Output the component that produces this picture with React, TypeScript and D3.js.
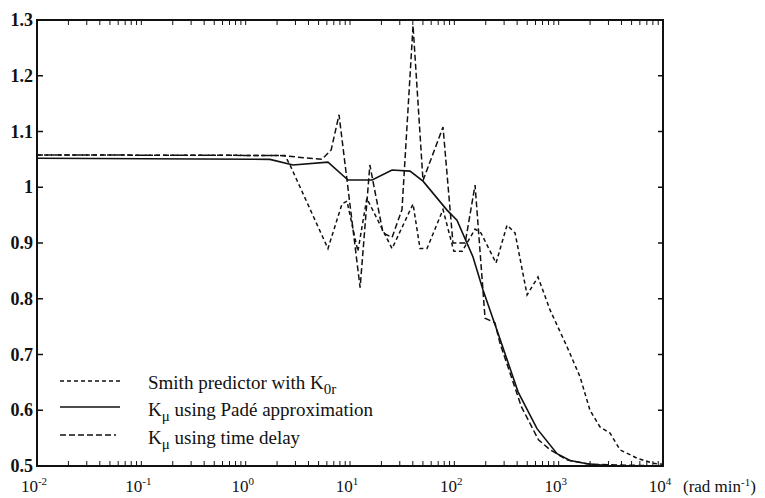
import React from 'react';
import * as d3 from 'd3';

const W = 765;
const H = 498;

// x: frequency (rad/min), y: gain
const xDecades = [-2, -1, 0, 1, 2, 3, 4];
const yTicks = [0.5, 0.6, 0.7, 0.8, 0.9, 1.0, 1.1, 1.2, 1.3];
const yTickLabels = ['0.5', '0.6', '0.7', '0.8', '0.9', '1', '1.1', '1.2', '1.3'];

// K_mu using Padé approximation (solid)
const padeFreq = [0.01, 1.71, 2.84, 6.15, 9.57, 16.3, 25.3, 37.6, 50.1, 85.1, 106, 151, 188, 274, 408, 620, 964, 1285, 1870, 2906, 10000];
const padeGain = [1.052, 1.05, 1.04, 1.045, 1.013, 1.013, 1.031, 1.029, 1.011, 0.959, 0.941, 0.875, 0.816, 0.728, 0.633, 0.567, 0.522, 0.51, 0.504, 0.501, 0.5];

// K_mu using time delay (dashed, follows the Padé curve at high frequency)
const delayFreq = [0.01, 2.13, 5.39, 6.6, 7.85, 12.5, 15.5, 20.7, 25.3, 31.5, 40.2, 50.1, 77.9, 97, 127, 158, 197, 245, 274, 440, 640, 830, 1200, 2000, 10000];
const delayGain = [1.058, 1.057, 1.05, 1.067, 1.13, 0.82, 1.04, 0.918, 0.91, 0.96, 1.29, 1.012, 1.108, 0.9, 0.9, 1.004, 0.765, 0.757, 0.72, 0.606, 0.547, 0.529, 0.511, 0.503, 0.5];

// Smith predictor with K_0r (dashed, long tail)
const smithFreq = [0.01, 2.38, 2.66, 6.15, 8.38, 9.36, 11.9, 14.5, 25.3, 40.2, 46.9, 54.7, 77.9, 99, 119, 158, 180, 251, 320, 382, 498, 634, 826, 1202, 1603, 1995, 2489, 3105, 3873, 5636, 8017, 10000];
const smithGain = [1.058, 1.057, 1.04, 0.89, 0.97, 0.975, 0.885, 0.98, 0.89, 0.97, 0.89, 0.89, 0.96, 0.885, 0.885, 0.925, 0.918, 0.864, 0.932, 0.918, 0.807, 0.839, 0.78, 0.714, 0.66, 0.6, 0.57, 0.559, 0.529, 0.514, 0.505, 0.503];

const FF = { fontFamily: "'Liberation Serif'" };

export default function App() {
  const left = 37, right = 663, top = 20, bottom = 466;
  const x = d3.scaleLog().domain([0.01, 10000]).range([left, right]);
  const y = d3.scaleLinear().domain([0.5, 1.3]).range([bottom, top]);
  const line = d3.line<[number, number]>().x(d => x(d[0])).y(d => y(d[1]));

  const toPts = (f: number[], g: number[]) => f.map((v, i) => [v, g[i]] as [number, number]);

  const minor: number[] = [];
  for (let e = -2; e < 4; e++) {
    for (let k = 1; k <= 9; k++) minor.push(k * Math.pow(10, e));
  }
  minor.push(10000);

  return (
    <svg width={W} height={H} style={{ position: 'absolute', left: 0, top: 0, background: '#fff' }}>
      <defs>
        <clipPath id="plot">
          <rect x={left} y={top - 2} width={right - left} height={bottom - top + 2} />
        </clipPath>
      </defs>
      <rect x={0} y={0} width={W} height={H} fill="#fff" />

      {/* curves */}
      <g clipPath="url(#plot)" fill="none" stroke="#111">
        <path d={line(toPts(padeFreq, padeGain)) || ''} strokeWidth={1.6} />
        <path d={line(toPts(delayFreq, delayGain)) || ''} strokeWidth={1.5} strokeDasharray="6,3" />
        <path d={line(toPts(smithFreq, smithGain)) || ''} strokeWidth={1.5} strokeDasharray="4,3" />
      </g>

      {/* frame */}
      <rect x={left} y={top} width={right - left} height={bottom - top} fill="none" stroke="#111" strokeWidth={2} />

      {/* x ticks */}
      {minor.map((v, i) => (
        <g key={'xt' + i} stroke="#111" strokeWidth={1}>
          <line x1={x(v)} x2={x(v)} y1={bottom} y2={bottom - 5} />
          <line x1={x(v)} x2={x(v)} y1={top} y2={top + 5} />
        </g>
      ))}

      {/* y ticks */}
      {yTicks.map((v, i) => (
        <g key={'yt' + i} stroke="#111" strokeWidth={1.5}>
          <line x1={left} x2={left + 6} y1={y(v)} y2={y(v)} />
          <line x1={right} x2={right - 5} y1={y(v)} y2={y(v)} />
        </g>
      ))}

      {/* y labels */}
      {yTicks.map((v, i) => (
        <text key={'yl' + i} x={left - 4} y={y(v) + 6} textAnchor="end" fontSize={18} fontWeight="bold" fill="#111" style={FF}>
          {yTickLabels[i]}
        </text>
      ))}

      {/* x labels */}
      {xDecades.map((e, i) => (
        <text key={'xl' + i} x={x(Math.pow(10, e)) - 3} y={492} textAnchor="middle" fontSize={17} fill="#111" style={FF}>
          10<tspan dy={-7} fontSize={11}>{e < 0 ? '-' + Math.abs(e) : String(e)}</tspan>
        </text>
      ))}
      <text x={683} y={492} fontSize={17} fill="#111" style={FF}>
        (rad min<tspan dy={-6} fontSize={11}>-1</tspan><tspan dy={6}>)</tspan>
      </text>

      {/* legend */}
      <g stroke="#111" fill="none">
        <line x1={60} x2={120} y1={381} y2={381} strokeWidth={1.3} strokeDasharray="4,3" />
        <line x1={60} x2={120} y1={407} y2={407} strokeWidth={1.6} />
        <line x1={60} x2={116} y1={435} y2={435} strokeWidth={1.3} strokeDasharray="6,3" />
      </g>
      <g fontSize={19} fill="#111" style={FF}>
        <text x={148} y={389} style={FF}>
          Smith predictor with K<tspan dy={5} fontSize={15}>0r</tspan>
        </text>
        <text x={148} y={416} style={FF}>
          K<tspan dy={5} fontSize={15}>μ</tspan><tspan dy={-5}> using Padé approximation</tspan>
        </text>
        <text x={148} y={444} style={FF}>
          K<tspan dy={5} fontSize={15}>μ</tspan><tspan dy={-5}> using time delay</tspan>
        </text>
      </g>
    </svg>
  );
}
